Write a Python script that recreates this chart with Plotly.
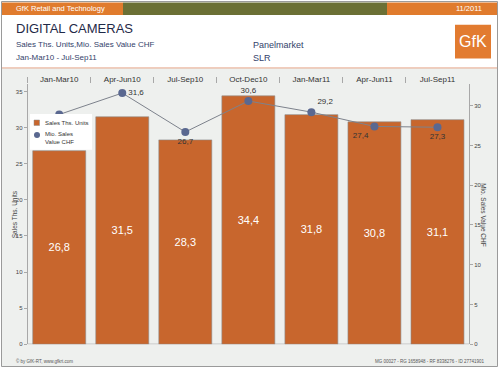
import plotly.graph_objects as go

categories = ["Jan-Mar10", "Apr-Jun10", "Jul-Sep10", "Oct-Dec10", "Jan-Mar11", "Apr-Jun11", "Jul-Sep11"]
units = [26.8, 31.5, 28.3, 34.4, 31.8, 30.8, 31.1]
value_chf = [28.9, 31.6, 26.7, 30.6, 29.2, 27.4, 27.3]
value_label_shown = [False, True, True, True, True, True, True]
value_label_pos = ["bottom center", "middle right", "bottom center", "top center", "top right", "bottom left", "bottom center"]

W, H = 500, 371
FONT = "Liberation Sans, Arial, sans-serif"

def px(x):
    return x / W

def py(y):
    return (H - y) / H

def fmt(v):
    return f"{v:.1f}".replace(".", ",")

ORANGE_BAR = "#c8662d"
HDR_ORANGE = "#e07b2d"
OLIVE = "#6b7035"
NAVY = "#1f2a48"
SUB = "#33426a"

fig = go.Figure()

fig.add_trace(go.Bar(
    x=categories, y=units, name="Sales Ths. Units",
    marker=dict(color=ORANGE_BAR, line=dict(color="#8c8c8c", width=0.6)),
    width=0.84,
    text=[fmt(v) for v in units], textposition="inside", insidetextanchor="middle",
    textfont=dict(color="white", size=11, family=FONT),
    showlegend=False, yaxis="y", hoverinfo="skip",
))

fig.add_trace(go.Scatter(
    x=categories, y=value_chf, name="Mio. Sales Value CHF",
    mode="lines+markers+text",
    line=dict(color="#7d828c", width=1),
    marker=dict(color="#5a6890", size=8),
    text=[fmt(v) if s else "" for v, s in zip(value_chf, value_label_shown)],
    textposition=value_label_pos,
    textfont=dict(color="#333333", size=8, family=FONT),
    showlegend=False, yaxis="y2", cliponaxis=False, hoverinfo="skip",
))

shapes = []
annotations = []

# outer gray panel + border
shapes.append(dict(type="rect", xref="paper", yref="paper", x0=px(1.5), x1=px(497.5), y0=py(369.5), y1=py(68.5),
                   fillcolor="#eef0ee", line=dict(width=0), layer="below"))
shapes.append(dict(type="line", xref="paper", yref="paper", x0=px(1.5), x1=px(497.5), y0=py(68.5), y1=py(68.5),
                   line=dict(color="#e6a488", width=1), layer="below"))
shapes.append(dict(type="rect", xref="paper", yref="paper", x0=px(1.5), x1=px(497.5), y0=py(369.5), y1=py(1.5),
                   fillcolor="rgba(0,0,0,0)", line=dict(color="#9a9a9a", width=1), layer="below"))
# header bar
shapes.append(dict(type="rect", xref="paper", yref="paper", x0=px(2), x1=px(123), y0=py(15), y1=py(2.5),
                   fillcolor=HDR_ORANGE, line=dict(width=0), layer="below"))
shapes.append(dict(type="rect", xref="paper", yref="paper", x0=px(123), x1=px(387), y0=py(15), y1=py(2.5),
                   fillcolor=OLIVE, line=dict(width=0), layer="below"))
shapes.append(dict(type="rect", xref="paper", yref="paper", x0=px(387), x1=px(497), y0=py(15), y1=py(2.5),
                   fillcolor=HDR_ORANGE, line=dict(width=0), layer="below"))
# logo
shapes.append(dict(type="rect", xref="paper", yref="paper", x0=px(455), x1=px(491), y0=py(59), y1=py(25),
                   fillcolor="#e27b30", line=dict(width=0), layer="below"))

# legend box (manual)
shapes.append(dict(type="rect", xref="paper", yref="paper", x0=px(30), x1=px(92), y0=py(151), y1=py(115),
                   fillcolor="white", line=dict(width=0), layer="above"))
shapes.append(dict(type="rect", xref="paper", yref="paper", x0=px(34), x1=px(39.5), y0=py(126.5), y1=py(121),
                   fillcolor=ORANGE_BAR, line=dict(color="#8c8c8c", width=0.5), layer="above"))
shapes.append(dict(type="circle", xref="paper", yref="paper", x0=px(34), x1=px(40), y0=py(139), y1=py(133),
                   fillcolor="#5a6890", line=dict(width=0), layer="above"))

def txt(x, y, s, size, color, xanchor="left", angle=0, family=FONT):
    annotations.append(dict(xref="paper", yref="paper", x=px(x), y=py(y), text=s, showarrow=False,
                            xanchor=xanchor, yanchor="middle", textangle=angle,
                            font=dict(size=size, color=color, family=family)))

txt(14, 9, "GfK Retail and Technology", 7.5, "white")
txt(484, 9, "11/2011", 7.5, "white", xanchor="right")
txt(14, 29, "DIGITAL CAMERAS", 13, NAVY)
txt(14, 45, "Sales Ths. Units,Mio. Sales Value CHF", 8, SUB)
txt(14, 58, "Jan-Mar10 - Jul-Sep11", 8, SUB)
txt(251, 45, "Panelmarket", 9, SUB)
txt(251, 58, "SLR", 9, SUB)
txt(473, 42, "GfK", 16, "white", xanchor="center")
txt(43, 123.5, "Sales Ths. Units", 6, "#333333")
annotations.append(dict(xref="paper", yref="paper", x=px(43), y=py(139.5), text="Mio. Sales<br>Value CHF",
                        showarrow=False, xanchor="left", yanchor="middle", align="left",
                        font=dict(size=6, color="#333333", family=FONT)))
txt(14, 216, "Sales Ths. Units", 6.5, "#444444", xanchor="center", angle=-90)
txt(484, 216, "Mio. Sales Value CHF", 6.5, "#444444", xanchor="center", angle=90)
txt(14, 364, "© by GfK-RT, www.gfkrt.com", 4.5, "#555555")
txt(487, 364, "MG 00027 - RG 1658948 - RF 8338276 - ID 27741901", 4.5, "#555555", xanchor="right")

axis_common = dict(showgrid=False, tickfont=dict(size=6, color="#444444", family=FONT),
                   showline=True, linecolor="#a8a8a8", linewidth=1, ticks="outside",
                   ticklen=3, tickcolor="#a8a8a8", dtick=5, zeroline=False, fixedrange=True)

fig.update_layout(
    width=W, height=H,
    margin=dict(l=0, r=0, t=0, b=0),
    paper_bgcolor="white", plot_bgcolor="rgba(0,0,0,0)",
    font=dict(family=FONT),
    xaxis=dict(domain=[px(27.7), px(469)], side="top", showgrid=False, showline=False,
               ticks="outside", tickson="boundaries", ticklen=6, tickcolor="#a8a8a8",
               tickfont=dict(size=8, color="#333333", family=FONT), fixedrange=True),
    yaxis=dict(domain=[py(347), py(85)], range=[0, 36], **axis_common),
    yaxis2=dict(overlaying="y", side="right", anchor="x", range=[0, 32.7], **axis_common),
    shapes=shapes, annotations=annotations,
    showlegend=False,
)
# bottom baseline
fig.add_shape(type="line", xref="x domain", yref="y", x0=0, x1=1, y0=0, y1=0,
              line=dict(color="#a8a8a8", width=1), layer="below")

fig.write_html("out.html", config={"displayModeBar": False},
               post_script="document.body.style.margin='0';document.body.style.overflow='hidden';")
